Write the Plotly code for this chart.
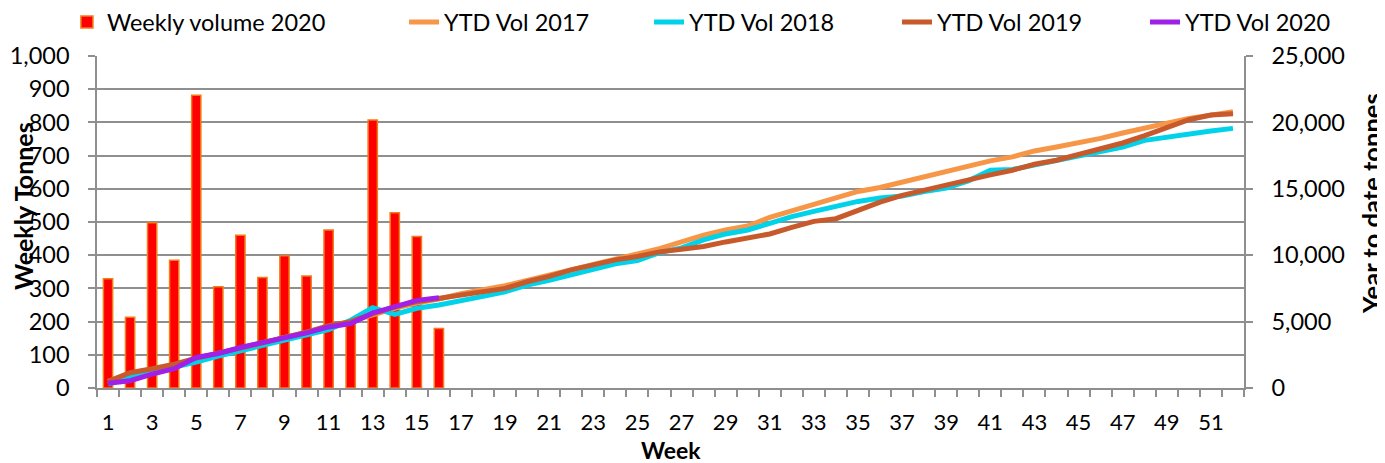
import plotly.graph_objects as go

weeks = list(range(1, 53))
tick_weeks = list(range(1, 53, 2))
tick_labels = [str(w) for w in tick_weeks]

weekly_2020 = [329, 213, 498, 385, 882, 305, 460, 333, 398, 337, 476, 195, 807, 528, 456, 179]

ytd_2017 = [500, 1000, 1350, 1700, 2200, 2600, 3000, 3400, 3800, 4200, 4650, 5000, 5500, 6000, 6400, 6700,
            7100, 7400, 7700, 8100, 8500, 8900, 9300, 9750, 10100, 10500, 11000, 11500, 11900, 12200,
            12850, 13350, 13850, 14350, 14800, 15100, 15500, 15850, 16250, 16700, 17100, 17400,
            17850, 18150, 18450, 18800, 19200, 19550, 19950, 20300, 20550, 20800]
ytd_2018 = [300, 800, 1200, 1550, 1950, 2400, 2800, 3250, 3600, 4000, 4400, 5100, 6050, 5550, 6000, 6250,
            6550, 6900, 7250, 7750, 8100, 8500, 8900, 9350, 9600, 10200, 10550, 11150, 11600, 11900,
            12400, 12900, 13300, 13700, 14050, 14300, 14450, 14800, 15050, 15600, 16400, 16450,
            16800, 17150, 17450, 17800, 18150, 18650, 18900, 19100, 19350, 19550]
ytd_2019 = [500, 1150, 1450, 1800, 2250, 2600, 3000, 3400, 3800, 4200, 4700, 5000, 5600, 6100, 6500, 6750,
            7000, 7250, 7500, 8000, 8400, 8900, 9250, 9650, 9900, 10250, 10450, 10650, 11000, 11300,
            11600, 12100, 12550, 12750, 13400, 14000, 14500, 14900, 15250, 15650, 16050, 16400,
            16850, 17150, 17600, 18050, 18450, 19000, 19650, 20200, 20550, 20650]
ytd_2020 = [350, 550, 1050, 1450, 2300, 2600, 3050, 3400, 3800, 4150, 4600, 4850, 5650, 6150, 6600, 6800]

FONT = "Lato"
GRID = "#8f8f8f"

line_series = [("YTD Vol 2017", ytd_2017, "#f79646"),
               ("YTD Vol 2018", ytd_2018, "#00d2ea"),
               ("YTD Vol 2019", ytd_2019, "#c8592a"),
               ("YTD Vol 2020", ytd_2020, "#a020e8")]
legend_x = [-0.0262, 0.2677, 0.4813, 0.6975, 0.9137]

fig = go.Figure()
fig.add_trace(go.Bar(x=weeks[:len(weekly_2020)], y=weekly_2020, name="Weekly volume 2020",
                     marker=dict(color="#ff0000", line=dict(color="#f07d1a", width=1.5)),
                     width=0.42, yaxis="y", legend="legend"))
for i, (name, vals, col) in enumerate(line_series):
    fig.add_trace(go.Scatter(x=weeks[:len(vals)], y=vals, name=name, mode="lines",
                             line=dict(color=col, width=5), yaxis="y2",
                             legend="legend%d" % (i + 2)))

legends = {}
for i, lx in enumerate(legend_x):
    key = "legend" if i == 0 else "legend%d" % (i + 1)
    legends[key] = dict(orientation="h", x=lx, xanchor="left", y=1.102, yanchor="middle",
                        font=dict(size=23.5), bgcolor="rgba(0,0,0,0)")

# page body has an 8px margin, so the figure is sized/offset to fit the window
fig.update_layout(
    width=1377, height=455,
    margin=dict(l=89, r=141, t=48, b=75, autoexpand=False),
    paper_bgcolor="white", plot_bgcolor="white",
    font=dict(family=FONT, size=22, color="black"),
    showlegend=True,
    xaxis=dict(range=[0.5, 52.5], tickmode="array", tickvals=tick_weeks, ticktext=tick_labels,
               ticks="", showgrid=False, showline=True, linecolor=GRID, linewidth=1.5,
               ticklabelstandoff=14, automargin=False, tickfont=dict(size=22),
               minor=dict(tick0=0.5, dtick=1, ticks="outside", ticklen=7, tickcolor=GRID,
                          tickwidth=1.5, showgrid=False),
               zeroline=False),
    yaxis=dict(range=[0, 1000], dtick=100, tickformat=",", showgrid=True, gridcolor=GRID,
               gridwidth=1.5, showline=True, linecolor=GRID, linewidth=1.5, ticks="outside",
               ticklen=7, tickcolor=GRID, tickwidth=1.5, ticklabelstandoff=14,
               tickfont=dict(size=23.5), automargin=False, zeroline=False),
    yaxis2=dict(range=[0, 25000], dtick=5000, tickformat=",", overlaying="y", side="right",
                showgrid=False, showline=True, linecolor=GRID, linewidth=1.5, ticks="outside",
                ticklen=7, tickcolor=GRID, tickwidth=1.5, ticklabelstandoff=14,
                tickfont=dict(size=23.5), automargin=False, zeroline=False),
    bargap=0.5,
    annotations=[
        dict(text="<b>Week</b>", xref="paper", yref="paper", x=0.5, y=-0.1867,
             xanchor="center", yanchor="middle", showarrow=False, font=dict(size=23),
             borderpad=0),
        dict(text="<b>Weekly Tonnes</b>", xref="paper", yref="paper", x=-0.0645, y=0.548,
             xanchor="center", yanchor="middle", textangle=-90, showarrow=False,
             font=dict(size=25), borderpad=0),
        dict(text="<b>Year to date tonnes</b>", xref="paper", yref="paper", x=1.1107, y=0.557,
             xanchor="center", yanchor="middle", textangle=-90, showarrow=False,
             font=dict(size=25.5), borderpad=0),
    ],
    **legends,
)

fig.write_html("out.html")
